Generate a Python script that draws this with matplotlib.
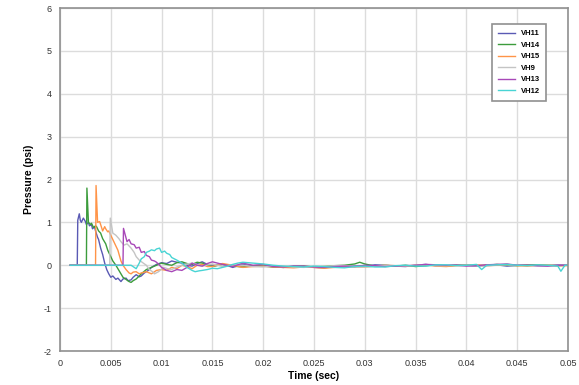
import matplotlib
matplotlib.use("Agg")
import matplotlib.pyplot as plt

plt.rcParams['font.family'] = ['Liberation Sans', 'DejaVu Sans']
plt.rcParams['axes.unicode_minus'] = False

# data (time in sec, pressure in psi)
t_vh11 = [0.001, 0.0017, 0.00175, 0.0019, 0.002, 0.0021, 0.0023, 0.0025, 0.0026, 0.0028,
          0.0029, 0.0031, 0.0032, 0.0034, 0.0035, 0.0037, 0.0038, 0.004, 0.0042, 0.0044,
          0.0046, 0.0048, 0.005, 0.0052, 0.0055, 0.0057, 0.006, 0.0062, 0.0065, 0.0067,
          0.007, 0.0072, 0.0075, 0.0078, 0.008, 0.0083, 0.0085, 0.0088, 0.009, 0.0095,
          0.010, 0.0105, 0.011, 0.0115, 0.012, 0.0125, 0.013, 0.0135, 0.014, 0.0145,
          0.015, 0.016, 0.017, 0.018, 0.019, 0.020, 0.021, 0.022, 0.023, 0.024,
          0.025, 0.026, 0.027, 0.028, 0.029, 0.030, 0.031, 0.032, 0.033, 0.034,
          0.035, 0.036, 0.037, 0.038, 0.039, 0.040, 0.041, 0.042, 0.043, 0.044,
          0.045, 0.046, 0.047, 0.048, 0.049, 0.050]
p_vh11 = [0.0, 0.0, 1.05, 1.2, 1.05, 1.0, 1.1, 1.02, 0.95, 1.0,
          0.92, 0.95, 0.85, 0.9, 0.8, 0.65, 0.6, 0.4, 0.25, 0.05,
          -0.1, -0.2, -0.28, -0.25, -0.33, -0.3, -0.38, -0.32, -0.3, -0.36,
          -0.34, -0.28, -0.22, -0.27, -0.25, -0.18, -0.15, -0.1, -0.05, 0.02,
          0.06, 0.04, 0.1, 0.07, 0.05, 0.0, -0.02, 0.04, 0.08, 0.02,
          0.0, 0.03, -0.05, 0.02, -0.02, 0.0, -0.04, -0.05, -0.02, -0.03,
          -0.05, -0.06, -0.03, -0.04, -0.02, -0.02, 0.01, 0.0, -0.02, -0.03,
          0.0, 0.02, -0.01, -0.01, 0.01, 0.01, -0.02, 0.0, 0.01, -0.02,
          0.0, 0.01, -0.01, -0.01, 0.01, 0.0]

t_vh14 = [0.001, 0.0026, 0.00265, 0.0028, 0.003, 0.0031, 0.0033, 0.0035, 0.0036, 0.0038,
          0.004, 0.0042, 0.0045, 0.0047, 0.005, 0.0052, 0.0055, 0.0058, 0.006, 0.0062,
          0.0065, 0.0068, 0.007, 0.0072, 0.0075, 0.0078, 0.008, 0.0085, 0.009, 0.0095,
          0.010, 0.0105, 0.011, 0.0115, 0.012, 0.0125, 0.013, 0.0135, 0.014, 0.0145,
          0.015, 0.016, 0.017, 0.018, 0.019, 0.020, 0.021, 0.022, 0.023, 0.024,
          0.025, 0.026, 0.027, 0.028, 0.029, 0.0295, 0.030, 0.031, 0.032, 0.033,
          0.034, 0.035, 0.036, 0.037, 0.038, 0.039, 0.040, 0.041, 0.042, 0.043,
          0.044, 0.045, 0.046, 0.047, 0.048, 0.049, 0.050]
p_vh14 = [0.0, 0.0, 1.8, 1.0, 0.95, 0.98, 0.88, 0.92, 0.9, 0.8,
          0.75, 0.62, 0.5, 0.35, 0.2, 0.1, 0.0, -0.12, -0.2, -0.28,
          -0.33, -0.38, -0.4, -0.36, -0.32, -0.25, -0.2, -0.1, -0.05, 0.0,
          0.05, 0.02, 0.0, 0.06, 0.08, 0.04, 0.02, 0.07, 0.05, 0.0,
          -0.03, 0.02, -0.02, -0.04, -0.01, -0.02, -0.04, -0.05, -0.03, -0.02,
          -0.04, -0.03, -0.01, 0.0, 0.03, 0.07, 0.03, -0.02, 0.0, -0.02,
          0.0, -0.03, -0.01, 0.01, -0.02, 0.0, 0.0, -0.01, 0.0, 0.02,
          0.0, -0.01, 0.01, 0.01, 0.0, -0.01, 0.0]

t_vh15 = [0.001, 0.0035, 0.00355, 0.0037, 0.0039, 0.004, 0.0042, 0.0044, 0.0045, 0.0047,
          0.0048, 0.005, 0.0052, 0.0055, 0.0057, 0.006, 0.0062, 0.0065, 0.0068, 0.007,
          0.0072, 0.0075, 0.0078, 0.008, 0.0085, 0.009, 0.0095, 0.010, 0.0105, 0.011,
          0.0115, 0.012, 0.0125, 0.013, 0.0135, 0.014, 0.0145, 0.015, 0.016, 0.017,
          0.018, 0.019, 0.020, 0.021, 0.022, 0.023, 0.024, 0.025, 0.026, 0.027,
          0.028, 0.029, 0.030, 0.031, 0.032, 0.033, 0.034, 0.035, 0.036, 0.037,
          0.038, 0.039, 0.040, 0.041, 0.042, 0.043, 0.044, 0.045, 0.046, 0.047,
          0.048, 0.049, 0.050]
p_vh15 = [0.0, 0.0, 1.86, 1.0, 1.02, 0.95, 0.8, 0.9, 0.85, 0.78,
          0.8, 0.7, 0.6, 0.45, 0.35, 0.1, 0.0, -0.1, -0.18, -0.2,
          -0.16, -0.15, -0.2, -0.18, -0.15, -0.2, -0.12, -0.1, -0.12, -0.05,
          -0.08, 0.0, -0.03, -0.08, 0.0, 0.02, -0.03, -0.03, 0.04, 0.0,
          -0.05, -0.03, -0.02, -0.04, -0.05, -0.06, -0.04, -0.05, -0.07, -0.05,
          -0.02, -0.04, -0.04, -0.02, 0.0, -0.01, -0.02, 0.0, 0.01, -0.02,
          -0.03, -0.01, 0.0, 0.01, -0.01, 0.0, 0.02, -0.01, -0.02, 0.0,
          0.0, -0.01, -0.01]

t_vh9 = [0.001, 0.0049, 0.00495, 0.0052, 0.0055, 0.0058, 0.006, 0.0063, 0.0066, 0.0068,
         0.007, 0.0073, 0.0075, 0.0078, 0.0082, 0.0085, 0.0088, 0.0091, 0.0093, 0.0097,
         0.0102, 0.0106, 0.011, 0.0115, 0.012, 0.0125, 0.013, 0.014, 0.015, 0.016,
         0.017, 0.018, 0.019, 0.020, 0.021, 0.022, 0.023, 0.024, 0.025, 0.026,
         0.027, 0.028, 0.029, 0.030, 0.031, 0.032, 0.033, 0.034, 0.035, 0.036,
         0.037, 0.038, 0.039, 0.040, 0.041, 0.042, 0.043, 0.044, 0.045, 0.046,
         0.047, 0.048, 0.049, 0.050]
p_vh9 = [0.0, 0.0, 1.1, 0.75, 0.7, 0.62, 0.55, 0.47, 0.5, 0.45,
         0.4, 0.3, 0.2, 0.12, 0.05, 0.0, -0.1, -0.15, -0.2, -0.15,
         -0.05, -0.08, -0.1, -0.04, 0.0, 0.03, 0.05, -0.02, 0.03, -0.03,
         0.01, 0.0, -0.03, -0.04, -0.02, -0.02, -0.04, -0.05, -0.03, -0.03,
         -0.01, -0.01, -0.04, -0.04, -0.02, 0.0, -0.01, -0.02, 0.0, 0.01,
         -0.01, -0.01, 0.0, 0.0, -0.02, -0.02, 0.01, 0.01, 0.0, 0.0,
         -0.01, -0.01, 0.0, 0.0]

t_vh13 = [0.001, 0.0062, 0.00625, 0.0066, 0.0068, 0.007, 0.0073, 0.0075, 0.0078, 0.008,
          0.0083, 0.0085, 0.0088, 0.009, 0.0093, 0.0095, 0.0098, 0.010, 0.0105, 0.011,
          0.0115, 0.012, 0.0125, 0.013, 0.0135, 0.014, 0.0145, 0.015, 0.0155, 0.016,
          0.017, 0.018, 0.019, 0.020, 0.021, 0.022, 0.023, 0.024, 0.025, 0.026,
          0.027, 0.028, 0.029, 0.030, 0.031, 0.032, 0.033, 0.034, 0.035, 0.036,
          0.037, 0.038, 0.039, 0.040, 0.041, 0.042, 0.043, 0.044, 0.045, 0.046,
          0.047, 0.048, 0.049, 0.050]
p_vh13 = [0.0, 0.0, 0.86, 0.55, 0.6, 0.5, 0.48, 0.4, 0.42, 0.3,
          0.32, 0.23, 0.2, 0.12, 0.1, 0.07, 0.0, -0.05, -0.12, -0.15,
          -0.1, -0.12, -0.05, 0.05, 0.0, -0.02, 0.04, 0.08, 0.05, 0.02,
          -0.03, 0.05, 0.0, 0.02, -0.03, -0.04, -0.02, -0.02, -0.04, -0.05,
          -0.03, -0.02, -0.03, 0.0, -0.01, -0.03, -0.02, -0.01, 0.0, 0.02,
          0.01, 0.0, 0.0, -0.02, -0.01, 0.01, 0.02, 0.03, 0.0, 0.0,
          -0.01, -0.02, 0.0, 0.0]

t_vh12 = [0.001, 0.007, 0.0075, 0.0078, 0.008, 0.0083, 0.0085, 0.0088, 0.009, 0.0093,
          0.0095, 0.0098, 0.010, 0.0103, 0.0105, 0.0108, 0.011, 0.0115, 0.012, 0.0125,
          0.013, 0.0133, 0.0137, 0.014, 0.0145, 0.015, 0.0155, 0.016, 0.0165, 0.017,
          0.0175, 0.018, 0.019, 0.020, 0.021, 0.022, 0.023, 0.024, 0.025, 0.026,
          0.027, 0.028, 0.029, 0.030, 0.031, 0.032, 0.033, 0.034, 0.035, 0.036,
          0.037, 0.038, 0.039, 0.040, 0.041, 0.0415, 0.042, 0.043, 0.044, 0.045,
          0.046, 0.047, 0.048, 0.049, 0.0493, 0.0497, 0.050]
p_vh12 = [0.0, 0.0, -0.08, 0.05, 0.15, 0.2, 0.3, 0.33, 0.36, 0.34,
          0.38, 0.4, 0.3, 0.33, 0.28, 0.25, 0.18, 0.12, 0.05, -0.05,
          -0.12, -0.15, -0.13, -0.12, -0.1, -0.07, -0.08, -0.05, -0.02, 0.02,
          0.05, 0.07, 0.05, 0.03, 0.0, -0.02, -0.03, -0.04, -0.02, -0.03,
          -0.05, -0.06, -0.03, -0.02, -0.04, -0.04, -0.01, 0.0, -0.02, -0.02,
          0.01, 0.01, -0.01, 0.0, 0.02, -0.1, 0.0, 0.01, 0.02, 0.0,
          -0.01, 0.01, 0.0, -0.02, -0.14, 0.0, 0.0]

series = [
    ("VH11", t_vh11, p_vh11, "#5a5ab4"),
    ("VH14", t_vh14, p_vh14, "#3c9c3c"),
    ("VH15", t_vh15, p_vh15, "#ff9448"),
    ("VH9", t_vh9, p_vh9, "#c4c4c4"),
    ("VH13", t_vh13, p_vh13, "#a848b8"),
    ("VH12", t_vh12, p_vh12, "#48d4d4"),
]

x_ticks = [0, 0.005, 0.01, 0.015, 0.02, 0.025, 0.03, 0.035, 0.04, 0.045, 0.05]
x_labels = ["0", "0.005", "0.01", "0.015", "0.02", "0.025", "0.03", "0.035", "0.04", "0.045", "0.05"]
y_ticks = [-2, -1, 0, 1, 2, 3, 4, 5, 6]

fig = plt.figure(figsize=(5.79, 3.85), dpi=100)
ax = fig.add_axes([0.1036, 0.0883, 0.8774, 0.8909])

for name, t, p, c in series:
    ax.plot(t, p, color=c, lw=1.0, label=name)

ax.set_xlim(0, 0.05)
ax.set_ylim(-2, 6)
ax.set_xticks(x_ticks)
ax.set_xticklabels(x_labels)
ax.set_yticks(y_ticks)
ax.grid(True, color="#dcdcdc", lw=1.0)
ax.set_axisbelow(True)
for s in ax.spines.values():
    s.set_color("#909090")
    s.set_linewidth(1.2)
ax.tick_params(labelsize=6.5, length=0, colors="#333333")
ax.tick_params(axis="x", pad=6)
ax.tick_params(axis="y", pad=6)

ax.set_xlabel("Time (sec)", fontsize=7.5, fontweight="bold", labelpad=2)
ax.set_ylabel("Pressure (psi)", fontsize=7.5, fontweight="bold", labelpad=7)

leg = ax.legend(loc="upper right", bbox_to_anchor=(0.965, 0.965),
                handlelength=2.2, labelspacing=0.55, borderpad=0.8,
                fancybox=False, framealpha=1, prop={"weight": "bold", "size": 5.5})
leg.get_frame().set_edgecolor("#909090")
leg.get_frame().set_linewidth(1.2)

fig.savefig("out.png", dpi=100)
